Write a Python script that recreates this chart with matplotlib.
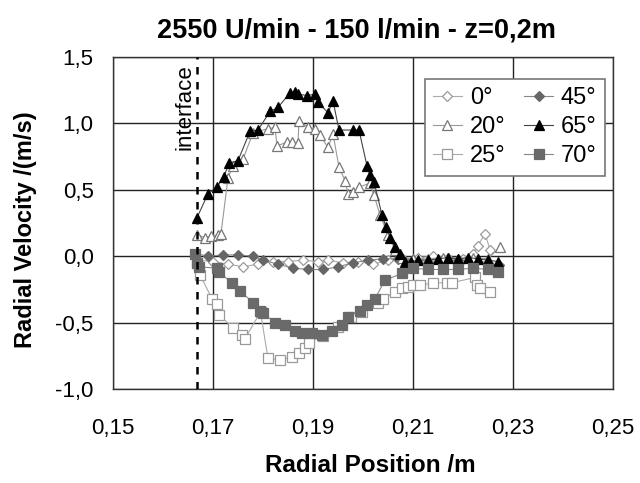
import matplotlib
matplotlib.use("Agg")
import matplotlib.pyplot as plt
from matplotlib.ticker import FuncFormatter, MultipleLocator

plt.rcParams['font.family'] = ['Liberation Sans', 'DejaVu Sans']

title = "2550 U/min - 150 l/min - z=0,2m"
xlabel = "Radial Position /m"
ylabel = "Radial Velocity /(m/s)"
interface_x = 0.1668

x_0 = [0.1668, 0.1700, 0.1730, 0.1760, 0.1790, 0.1820, 0.1850, 0.1880, 0.1910, 0.1930,
       0.1960, 0.1990, 0.2020, 0.2050, 0.2080, 0.2110, 0.2140, 0.2170, 0.2200, 0.2220,
       0.2230, 0.2244, 0.2254]
y_0 = [-0.03, -0.04, -0.06, -0.08, -0.06, -0.04, -0.04, -0.03, -0.04, -0.03,
       -0.05, -0.04, -0.06, -0.03, -0.02, -0.01, 0.00, -0.01, -0.02, 0.02,
       0.08, 0.17, 0.05]

x_45 = [0.1664, 0.1690, 0.1720, 0.1750, 0.1780, 0.1800, 0.1830, 0.1860, 0.1890, 0.1920,
        0.1950, 0.1980, 0.2010, 0.2040, 0.2070, 0.2100, 0.2130, 0.2160, 0.2190, 0.2220,
        0.2250, 0.2272]
y_45 = [0.02, 0.00, 0.01, 0.01, 0.00, -0.03, -0.06, -0.09, -0.10, -0.10,
        -0.08, -0.05, -0.03, -0.02, -0.02, -0.03, -0.05, -0.04, -0.03, -0.03,
        -0.05, -0.07]

x_20 = [0.1668, 0.1684, 0.1696, 0.1710, 0.1716, 0.1730, 0.1740, 0.1760, 0.1780, 0.1810,
        0.1824, 0.1828, 0.1848, 0.1858, 0.1870, 0.1872, 0.1890, 0.1904, 0.1914, 0.1930,
        0.1940, 0.1952, 0.1964, 0.1970, 0.1980, 0.1992, 0.2014, 0.2022, 0.2034, 0.2050,
        0.2064, 0.2078, 0.2100, 0.2130, 0.2160, 0.2190, 0.2220, 0.2250, 0.2274]
y_20 = [0.16, 0.14, 0.15, 0.16, 0.17, 0.59, 0.68, 0.73, 0.93, 0.96,
        0.97, 0.83, 0.86, 0.86, 0.85, 1.02, 0.97, 0.96, 0.91, 0.82,
        0.92, 0.67, 0.57, 0.47, 0.48, 0.52, 0.55, 0.46, 0.31, 0.16,
        0.05, -0.01, -0.02, -0.02, -0.01, -0.02, -0.01, -0.02, 0.07]

x_65 = [0.1668, 0.1690, 0.1708, 0.1722, 0.1732, 0.1750, 0.1774, 0.1790, 0.1814, 0.1830,
        0.1854, 0.1864, 0.1870, 0.1888, 0.1904, 0.1910, 0.1930, 0.1940, 0.1952, 0.1980,
        0.1992, 0.2008, 0.2014, 0.2022, 0.2038, 0.2046, 0.2054, 0.2064, 0.2074, 0.2084,
        0.2096, 0.2110, 0.2130, 0.2150, 0.2170, 0.2190, 0.2210, 0.2230, 0.2250, 0.2270]
y_65 = [0.29, 0.47, 0.52, 0.60, 0.70, 0.72, 0.94, 0.95, 1.09, 1.12,
        1.23, 1.24, 1.22, 1.21, 1.22, 1.16, 1.08, 1.17, 0.95, 0.95,
        0.95, 0.68, 0.61, 0.56, 0.31, 0.22, 0.14, 0.07, 0.02, -0.04,
        -0.04, -0.03, -0.03, -0.02, -0.01, -0.02, -0.01, -0.02, -0.03, -0.04]

x_25 = [0.1668, 0.1674, 0.1698, 0.1708, 0.1712, 0.1740, 0.1758, 0.1764, 0.1795, 0.1810,
        0.1834, 0.1858, 0.1872, 0.1884, 0.1892, 0.1920, 0.1950, 0.1975, 0.1998, 0.2030,
        0.2040, 0.2064, 0.2078, 0.2090, 0.2100, 0.2114, 0.2140, 0.2168, 0.2178, 0.2224,
        0.2228, 0.2234, 0.2254]
y_25 = [-0.05, -0.14, -0.32, -0.36, -0.44, -0.54, -0.59, -0.62, -0.42, -0.77,
        -0.78, -0.76, -0.73, -0.69, -0.65, -0.60, -0.53, -0.46, -0.42, -0.35,
        -0.32, -0.27, -0.24, -0.23, -0.22, -0.22, -0.20, -0.20, -0.20, -0.16,
        -0.22, -0.24, -0.27]

x_70 = [0.1664, 0.1668, 0.1672, 0.1708, 0.1712, 0.1738, 0.1754, 0.1780, 0.1794, 0.1800,
        0.1824, 0.1844, 0.1864, 0.1878, 0.1898, 0.1918, 0.1938, 0.1958, 0.1970, 0.1994,
        0.2008, 0.2024, 0.2044, 0.2078, 0.2100, 0.2130, 0.2160, 0.2190, 0.2220, 0.2250,
        0.2270]
y_70 = [0.02, -0.05, -0.08, -0.09, -0.12, -0.20, -0.26, -0.35, -0.41, -0.43,
        -0.50, -0.52, -0.56, -0.58, -0.58, -0.59, -0.56, -0.52, -0.46, -0.41,
        -0.37, -0.32, -0.18, -0.13, -0.09, -0.10, -0.10, -0.10, -0.09, -0.10,
        -0.12]

fig = plt.figure(figsize=(6.4, 4.83), dpi=100)
ax = fig.add_axes([113/640, 1-389/483, 500/640, 332/483])

series = [
    ("0°", x_0, y_0, dict(marker='D', ms=5.5, mfc='white', mec='#999999', color='#aaaaaa')),
    ("45°", x_45, y_45, dict(marker='D', ms=5.5, mfc='#666666', mec='#666666', color='#888888')),
    ("20°", x_20, y_20, dict(marker='^', ms=6.5, mfc='white', mec='#777777', color='#999999')),
    ("65°", x_65, y_65, dict(marker='^', ms=6.5, mfc='black', mec='black', color='#444444')),
    ("25°", x_25, y_25, dict(marker='s', ms=6.5, mfc='white', mec='#999999', color='#aaaaaa')),
    ("70°", x_70, y_70, dict(marker='s', ms=6.5, mfc='#6a6a6a', mec='#6a6a6a', color='#888888')),
]
handles = {}
for name, xs, ys, st in series:
    ln, = ax.plot(xs, ys, lw=0.8, mew=0.9, label=name, **st)
    handles[name] = ln

ax.axvline(interface_x, color='black', lw=1.8, ls=(0, (3, 3)), zorder=5)
ax.text(0.1643, 1.12, "interface", rotation=90, ha='center', va='center', fontsize=16)

ax.set_xlim(0.15, 0.25)
ax.set_ylim(-1.0, 1.5)
ax.set_xticks([0.15, 0.17, 0.19, 0.21, 0.23, 0.25])
ax.yaxis.set_major_locator(MultipleLocator(0.5))
ax.xaxis.set_major_formatter(FuncFormatter(lambda v, p: f"{v:.2f}".replace('.', ',')))
ax.yaxis.set_major_formatter(FuncFormatter(lambda v, p: f"{v:.1f}".replace('.', ',').replace('-0,0', '0,0')))
ax.tick_params(length=0, labelsize=16)
ax.tick_params(axis='x', pad=21)
ax.tick_params(axis='y', pad=14)
ax.grid(True, color='#222222', lw=1.0)
ax.set_axisbelow(True)
for s in ax.spines.values():
    s.set_color('#333333')
    s.set_linewidth(1.0)

order = ["0°", "20°", "25°", "45°", "65°", "70°"]
leg = ax.legend([handles[n] for n in order], order, ncol=2, loc='upper right',
                bbox_to_anchor=(605/640, 1-79/483), bbox_transform=fig.transFigure,
                fontsize=17, frameon=True, fancybox=False, framealpha=1,
                edgecolor='#777777', handlelength=1.2, columnspacing=0.8,
                labelspacing=0.3, borderpad=0.35, handletextpad=0.35,
                borderaxespad=0)
leg.get_frame().set_linewidth(1.2)

fig.text(356/640, 1-30/483, title, ha='center', va='center', fontsize=19.5, fontweight='bold')
fig.text(370/640, 1-466/483, xlabel, ha='center', va='center', fontsize=17.5, fontweight='bold')
fig.text(26/640, 1-230/483, ylabel, ha='center', va='center', rotation=90, fontsize=17, fontweight='bold')

fig.savefig("out.png", dpi=100)
